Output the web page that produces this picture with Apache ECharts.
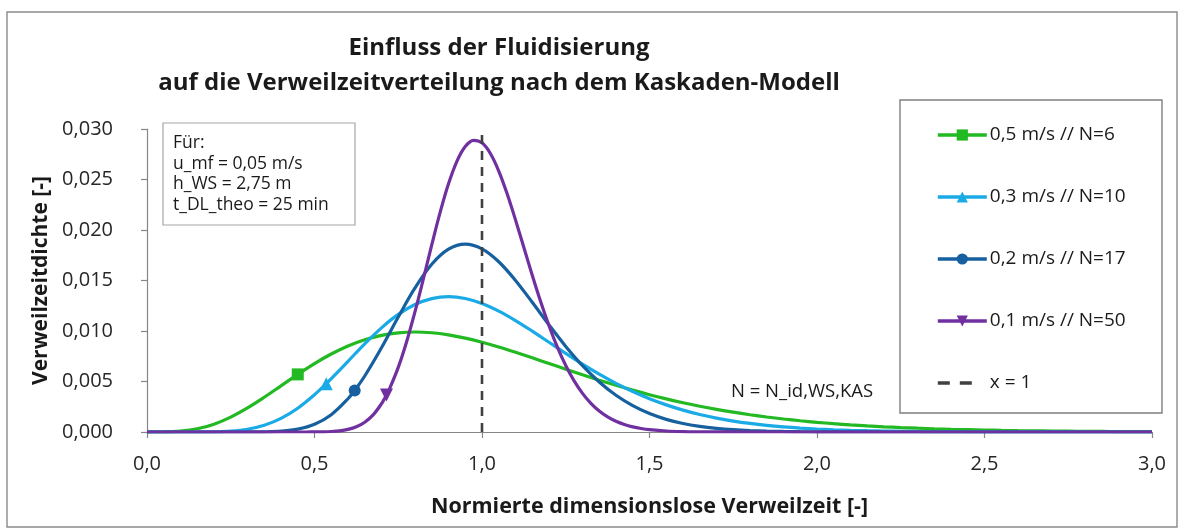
<!DOCTYPE html>
<html>
<head>
<meta charset="utf-8">
<script src="https://cdn.jsdelivr.net/npm/echarts@6/dist/echarts.min.js"></script>
<style>
  html, body { margin: 0; padding: 0; background: #ffffff; }
  #chart { width: 1184px; height: 532px; }
</style>
</head>
<body>
<div id="chart"></div>
<script>
// Normierte Verweilzeit (theta), Raster 0,05
const thetaCoarse = [
  0, 0.05, 0.1, 0.15, 0.2, 0.25, 0.3, 0.35, 0.4, 0.45, 0.5, 0.55, 0.6, 0.65, 0.7, 0.75,
  0.8, 0.85, 0.9, 0.95, 1.0, 1.05, 1.1, 1.15, 1.2, 1.25, 1.3, 1.35, 1.4, 1.45, 1.5,
  1.55, 1.6, 1.65, 1.7, 1.75, 1.8, 1.85, 1.9, 1.95, 2.0, 2.05, 2.1, 2.15, 2.2, 2.25,
  2.3, 2.35, 2.4, 2.45, 2.5, 2.55, 2.6, 2.65, 2.7, 2.75, 2.8, 2.85, 2.9, 2.95, 3.0
];

// 0,5 m/s // N=6
const dens05 = [
  0, 0.000006, 0.00008, 0.000316, 0.000777, 0.001477, 0.002385, 0.003441, 0.004572, 0.005703,
  0.006771, 0.007719, 0.008515, 0.009134, 0.009568, 0.00982, 0.0099, 0.009826, 0.009618, 0.009299,
  0.008891, 0.008417, 0.007896, 0.007346, 0.006782, 0.006219, 0.005667, 0.005132, 0.004622, 0.004143,
  0.003695, 0.003281, 0.002902, 0.002555, 0.002243, 0.001961, 0.00171, 0.001485, 0.001287, 0.001113,
  0.000959, 0.000824, 0.000707, 0.000605, 0.000516, 0.00044, 0.000374, 0.000318, 0.000269, 0.000228,
  0.000192, 0.000162, 0.000136, 0.000115, 0.000096, 0.000081, 0.000068, 0.000056, 0.000047, 0.000039,
  0.000033
];

// 0,3 m/s // N=10
const dens03 = [
  0, 0, 0, 0.000002, 0.000019, 0.000088, 0.000275, 0.000667, 0.001346, 0.002356,
  0.003688, 0.005274, 0.007, 0.008727, 0.010314, 0.01164, 0.01262, 0.013208, 0.0134, 0.013222,
  0.012724, 0.011972, 0.011038, 0.009987, 0.008886, 0.007781, 0.006717, 0.005723, 0.004815, 0.004005,
  0.003296, 0.002685, 0.002168, 0.001734, 0.001376, 0.001083, 0.000847, 0.000657, 0.000507, 0.000388,
  0.000296, 0.000224, 0.000169, 0.000127, 0.000095, 0.00007, 0.000052, 0.000038, 0.000028, 0.00002,
  0.000015, 0.000011, 0.000008, 0.000006, 0.000004, 0.000003, 0.000002, 0.000001, 0.000001, 0.000001,
  0
];

// 0,2 m/s // N=17
const dens02 = [
  0, 0, 0, 0, 0, 0, 0.000003, 0.000017, 0.000081, 0.00028,
  0.000762, 0.001714, 0.003292, 0.005545, 0.008338, 0.01138, 0.014266, 0.016606, 0.018098, 0.0186,
  0.018132, 0.016856, 0.015008, 0.012845, 0.010609, 0.008476, 0.00657, 0.004951, 0.003634, 0.002604,
  0.001825, 0.001252, 0.000842, 0.000556, 0.00036, 0.00023, 0.000145, 0.00009, 0.000055, 0.000033,
  0.00002, 0.000012, 0.000007, 0.000004, 0.000002, 0.000001, 0, 0, 0, 0,
  0, 0, 0, 0, 0, 0, 0, 0, 0, 0,
  0
];

// 0,1 m/s // N=50 (feineres Raster um das Maximum)
const thetaFine = [
  0, 0.1, 0.2, 0.3, 0.4,
  0.45, 0.475, 0.5, 0.525, 0.55, 0.575, 0.6, 0.625, 0.65, 0.675,
  0.7, 0.725, 0.75, 0.775, 0.8, 0.825, 0.85, 0.875, 0.9, 0.925,
  0.95, 0.975, 1.0, 1.025, 1.05, 1.075, 1.1, 1.125, 1.15, 1.175,
  1.2, 1.225, 1.25, 1.275, 1.3, 1.325, 1.35, 1.375, 1.4, 1.425,
  1.45, 1.475, 1.5,
  1.55, 1.6, 1.65, 1.7, 1.8, 1.9, 2.0, 2.5, 3.0
];
const dens01 = [
  0, 0, 0, 0, 0,
  0.000001, 0.000002, 0.000006, 0.000019, 0.000049, 0.000116, 0.000255, 0.000515, 0.000968, 0.001698,
  0.002798, 0.004347, 0.006396, 0.008939, 0.01191, 0.01517, 0.018525, 0.021739, 0.024568, 0.026802,
  0.028271, 0.028883, 0.028628, 0.027571, 0.025837, 0.023588, 0.021005, 0.018265, 0.015528, 0.012915,
  0.010522, 0.008401, 0.006581, 0.005063, 0.003823, 0.002841, 0.002077, 0.001494, 0.001059, 0.000739,
  0.000509, 0.000345, 0.000231,
  0.0001, 0.000041, 0.000016, 0.000006, 0.000001, 0, 0, 0, 0
];

// Markierte Einzelpunkte je Kurve
const markerTheta = [0.45, 0.535, 0.62, 0.715];
const markerDens = [0.005703, 0.004778, 0.004117, 0.003671];

const seriesNames = ['0,5 m/s // N=6', '0,3 m/s // N=10', '0,2 m/s // N=17', '0,1 m/s // N=50'];
const refLineName = 'x = 1';
const refLineX = [1, 1];
const refLineY = [0, 0.03];

const xTickLabels = ['0,0', '0,5', '1,0', '1,5', '2,0', '2,5', '3,0'];

const colors = ['#22b922', '#1aaae6', '#17609f', '#7030a0'];
const symbols = ['rect', 'triangle', 'circle', 'triangle'];
const symbolRot = [0, 0, 0, 180];
const symbolSizes = [12, 13, 12, 13];

function buildData(xs, ys, mx, my) {
  const pts = xs.map((x, i) => [x, ys[i]]);
  if (!pts.some(p => Math.abs(p[0] - mx) < 1e-9)) pts.push([mx, my]);
  pts.sort((a, b) => a[0] - b[0]);
  return pts.map(p => Math.abs(p[0] - mx) < 1e-9 ? { value: p } : { value: p, symbol: 'none' });
}

const curveX = [thetaCoarse, thetaCoarse, thetaCoarse, thetaFine];
const curveY = [dens05, dens03, dens02, dens01];

const FONT = '"Open Sans", "Noto Sans", sans-serif';

const series = seriesNames.map((name, i) => ({
  name: name,
  type: 'line',
  data: buildData(curveX[i], curveY[i], markerTheta[i], markerDens[i]),
  smooth: 0.35,
  symbol: symbols[i],
  symbolSize: symbolSizes[i],
  symbolRotate: symbolRot[i],
  showAllSymbol: true,
  color: colors[i],
  lineStyle: { width: 3.2, color: colors[i] },
  itemStyle: { color: colors[i], borderWidth: 0, opacity: 1 },
  emphasis: { disabled: true },
  animation: false,
  z: 2 + i
}));

series.push({
  name: refLineName,
  type: 'line',
  data: refLineX.map((x, i) => [x, refLineY[i]]),
  symbol: 'none',
  color: '#404040',
  lineStyle: { width: 2.6, color: '#404040', type: [9, 7] },
  emphasis: { disabled: true },
  animation: false,
  z: 10
});

// Legendeneinträge: kräftigere Linien, Bezugslinie als zwei Striche
const legendData = seriesNames.map((name, i) => ({
  name: name,
  lineStyle: { width: 3.6, color: colors[i] }
}));
legendData.push({
  name: refLineName,
  itemStyle: { opacity: 0 },
  lineStyle: { width: 3.6, color: '#404040', type: [12, 10, 12, 100] }
});

const chart = echarts.init(document.getElementById('chart'), null, { renderer: 'canvas' });

chart.setOption({
  backgroundColor: '#ffffff',
  animation: false,
  grid: { left: 147, right: 32, top: 129, bottom: 100, containLabel: false },
  xAxis: {
    type: 'value',
    min: 0, max: 3, interval: 0.5,
    name: 'Normierte dimensionslose Verweilzeit [-]',
    nameLocation: 'middle',
    nameGap: 64,
    nameTextStyle: { fontFamily: FONT, fontWeight: 'bold', fontSize: 21.5, color: '#1a1a1a' },
    axisLine: { show: true, onZero: false, lineStyle: { color: '#868686', width: 1.2 } },
    axisTick: { show: true, length: 6, lineStyle: { color: '#868686', width: 1.2 } },
    axisLabel: {
      margin: 22,
      fontFamily: FONT, fontSize: 20, color: '#262626',
      formatter: (v) => xTickLabels[Math.round(v / 0.5)]
    },
    splitLine: { show: false }
  },
  yAxis: {
    type: 'value',
    min: 0, max: 0.03, interval: 0.005,
    name: 'Verweilzeitdichte [-]',
    nameLocation: 'middle',
    nameGap: 91,
    nameTextStyle: { fontFamily: FONT, fontWeight: 'bold', fontSize: 21, color: '#1a1a1a' },
    axisLine: { show: true, lineStyle: { color: '#868686', width: 1.2 } },
    axisTick: { show: true, length: 6, lineStyle: { color: '#868686', width: 1.2 } },
    axisLabel: {
      margin: 34,
      fontFamily: FONT, fontSize: 20, color: '#262626',
      formatter: (v) => v.toFixed(3).replace('.', ',')
    },
    splitLine: { show: false }
  },
  legend: {
    orient: 'vertical',
    left: 936,
    top: 124,
    padding: 0,
    itemWidth: 49,
    itemHeight: 14,
    itemGap: 40,
    data: legendData,
    textStyle: { fontFamily: FONT, fontSize: 19, color: '#1a1a1a', lineHeight: 22, padding: [0, 0, 0, -2] },
    selectedMode: false
  },
  graphic: [
    {
      type: 'rect', silent: true, z: -10,
      shape: { x: 7, y: 12, width: 1170, height: 515 },
      style: { fill: 'none', stroke: '#8a8a8a', lineWidth: 1.4 }
    },
    {
      type: 'text', silent: true,
      style: { x: 499, y: 48, text: 'Einfluss der Fluidisierung', align: 'center', verticalAlign: 'middle', textAlign: 'center', textVerticalAlign: 'middle', font: 'bold 24px ' + FONT, fill: '#1a1a1a' }
    },
    {
      type: 'text', silent: true,
      style: { x: 499, y: 83, text: 'auf die Verweilzeitverteilung nach dem Kaskaden-Modell', align: 'center', verticalAlign: 'middle', textAlign: 'center', textVerticalAlign: 'middle', font: 'bold 24px ' + FONT, fill: '#1a1a1a' }
    },
    {
      type: 'rect', silent: true, z: 20,
      shape: { x: 163, y: 123, width: 192, height: 102 },
      style: { fill: '#ffffff', stroke: '#a6a6a6', lineWidth: 1.2 }
    },
    {
      type: 'text', silent: true, z: 21,
      style: { x: 173, y: 133, text: 'Für:\nu_mf = 0,05 m/s\nh_WS = 2,75 m\nt_DL_theo = 25 min', lineHeight: 20.5, align: 'left', verticalAlign: 'top', textAlign: 'left', textVerticalAlign: 'top', font: '17.5px ' + FONT, fill: '#1a1a1a' }
    },
    {
      type: 'text', silent: true, z: 21,
      style: { x: 731, y: 392, text: 'N = N_id,WS,KAS', align: 'left', verticalAlign: 'middle', textAlign: 'left', textVerticalAlign: 'middle', font: '18.5px ' + FONT, fill: '#1a1a1a' }
    },
    {
      type: 'rect', silent: true, z: 1,
      shape: { x: 900, y: 100, width: 262, height: 313 },
      style: { fill: '#ffffff', stroke: '#7f7f7f', lineWidth: 1.4 }
    }
  ],
  series: series
});
</script>
</body>
</html>
